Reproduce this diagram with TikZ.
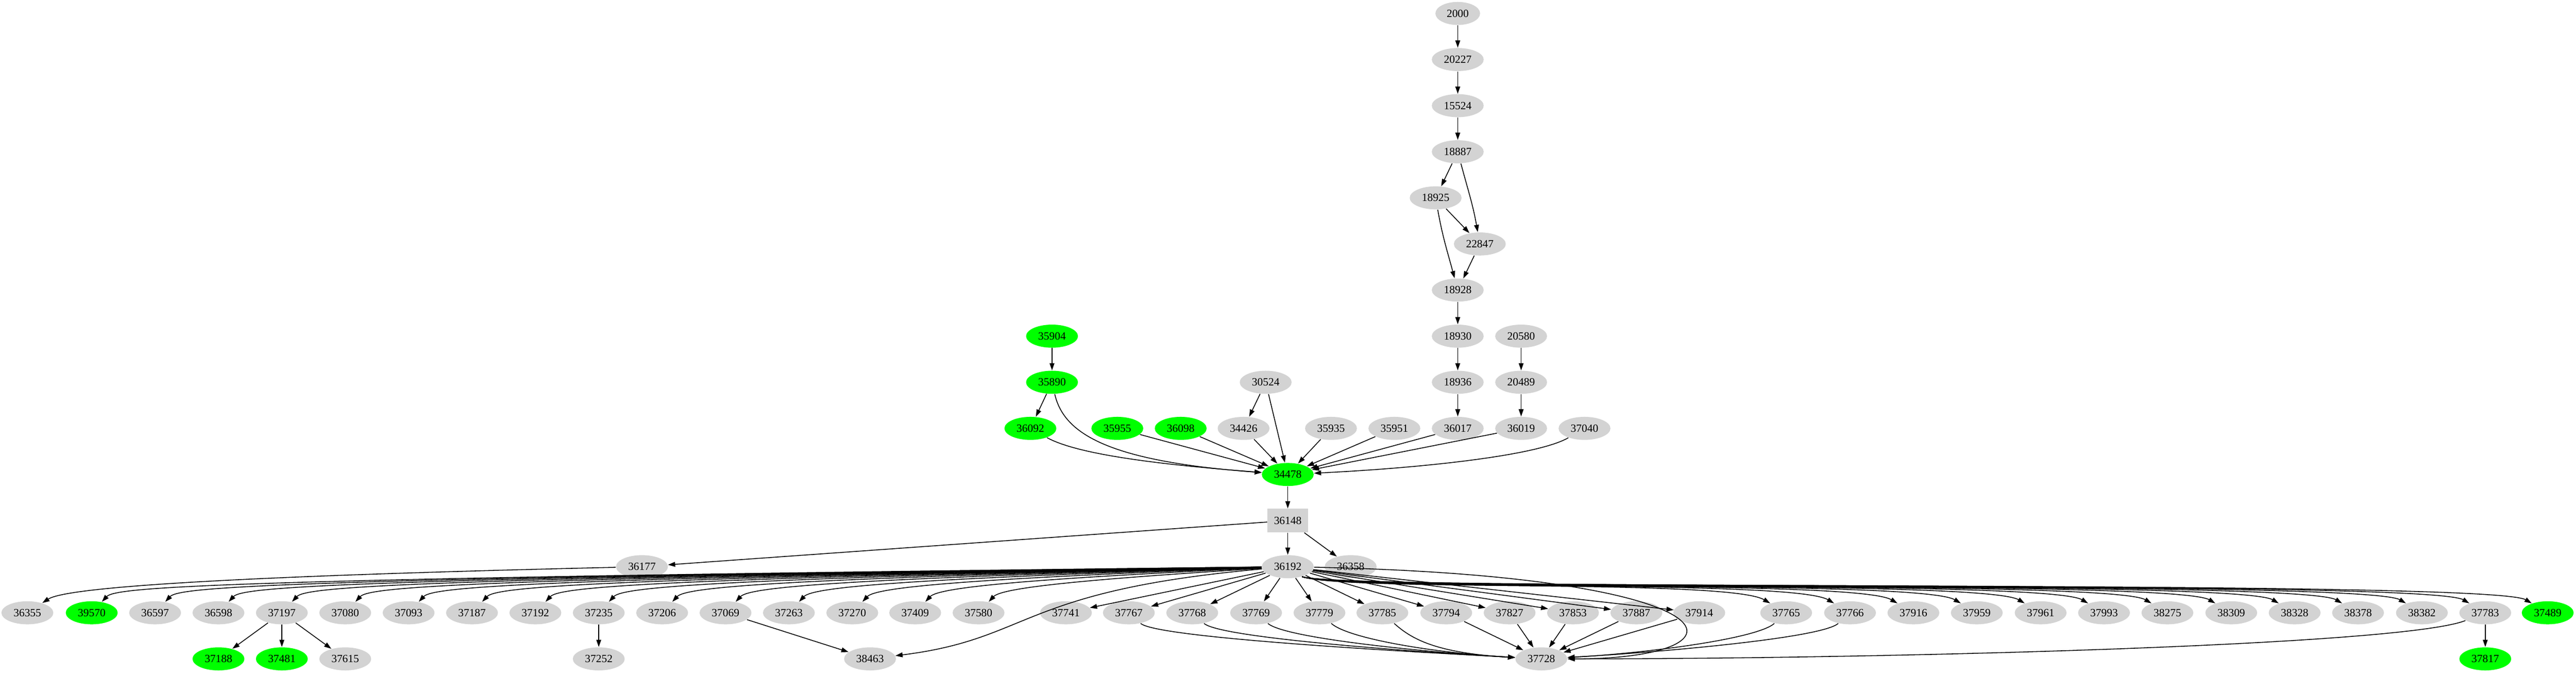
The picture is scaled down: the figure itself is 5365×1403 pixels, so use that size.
\documentclass[tikz,border=0pt]{standalone}
\usepackage{fontspec}
\setmainfont{Liberation Serif}
\usetikzlibrary{arrows.meta,shapes.geometric}
\definecolor{nodegray}{HTML}{D3D3D3}
\definecolor{nodegreen}{HTML}{00FF00}
\tikzset{
    every node/.style={align=center,font=\fontsize{5.75}{6.5}\selectfont},
    job/.style={ellipse,fill=nodegray,inner sep=0pt,minimum width=27pt,minimum height=12pt},
    done/.style={job,fill=nodegreen},
    hub/.style={rectangle,fill=nodegray,inner sep=0pt,minimum width=21pt,minimum height=12.25pt},
    dep/.style={-{Triangle[length=3.75pt,width=2.5pt]},line width=0.42pt},
}

\begin{document}
\begin{tikzpicture}[x=0.25pt,y=-0.25pt]
                \useasboundingbox (0,0) rectangle (5365,1403);

                % top chain
                \node[job,minimum width=23.25pt] (n2000) at (3036, 28) {2000};
                \node[job] (n20227) at (3036, 124) {20227};
                \node[job] (n15524) at (3036, 220) {15524};
                \node[job] (n18887) at (3036, 316) {18887};
                \node[job] (n18925) at (2990, 412) {18925};
                \node[job] (n22847) at (3082, 508) {22847};
                \node[job] (n18928) at (3036, 604) {18928};
                \node[job] (n18930) at (3036, 700) {18930};
                \node[job] (n20580) at (3168, 700) {20580};
                \node[done] (n35904) at (2191, 700) {35904};
                \node[done] (n35890) at (2191, 796) {35890};
                \node[job] (n30524) at (2636, 796) {30524};
                \node[job] (n18936) at (3036, 796) {18936};
                \node[job] (n20489) at (3168, 796) {20489};

                % feeders of 34478
                \foreach \n/\x/\s in {36092/2146/done, 35955/2327/done, 36098/2459/done, 34426/2590/job,
                    35935/2772/job, 35951/2904/job, 36017/3036/job, 36019/3168/job, 37040/3300/job}
                    \node[\s] (n\n) at (\x, 892) {\n};

                \node[done] (n34478) at (2682, 988) {34478};
                \node[hub] (n36148) at (2682, 1084) {36148};
                \node[job] (n36177) at (1337, 1180) {36177};
                \node[job] (n36192) at (2682, 1180) {36192};
                \node[job] (n36358) at (2813, 1180) {36358};

                % bottom rows
                \foreach \n/\x/\s in {36355/57/job, 39570/191/done, 36597/323/job, 36598/455/job, 37197/587/job,
                    37080/719/job, 37093/851/job, 37187/983/job, 37192/1115/job, 37235/1247/job, 37206/1379/job,
                    37069/1511/job, 37263/1643/job, 37270/1775/job, 37409/1906/job, 37580/2038/job,
                    37741/2220/job, 37767/2351/job, 37768/2483/job, 37769/2616/job, 37779/2748/job,
                    37785/2879/job, 37794/3012/job, 37827/3144/job, 37853/3276/job, 37887/3408/job,
                    37914/3539/job, 37765/3720/job, 37766/3853/job, 37916/3985/job, 37959/4117/job,
                    37961/4250/job, 37993/4382/job, 38275/4514/job, 38309/4647/job, 38328/4779/job,
                    38378/4911/job, 38382/5044/job, 37783/5176/job, 37489/5306/done}
                    \node[\s] (n\n) at (\x, 1276) {\n};
                \foreach \n/\x/\s in {37188/455/done, 37481/587/done, 37615/719/job, 37252/1247/job,
                    38463/1812/job, 37728/3210/job, 37817/5176/done}
                    \node[\s] (n\n) at (\x, 1372) {\n};

                % chain edges
                \draw[dep] (n2000) -- (n20227);
                \draw[dep] (n20227) -- (n15524);
                \draw[dep] (n15524) -- (n18887);
                \draw[dep] (n18887) -- (n18925);
                \draw[dep] (n18887) to[out=-75,in=100] (n22847);
                \draw[dep] (n18925) -- (n22847);
                \draw[dep] (n18925) to[out=-80,in=105] (n18928);
                \draw[dep] (n22847) -- (n18928);
                \draw[dep] (n18928) -- (n18930);
                \draw[dep] (n18930) -- (n18936);
                \draw[dep] (n18936) -- (n36017);
                \draw[dep] (n20580) -- (n20489);
                \draw[dep] (n20489) -- (n36019);
                \draw[dep] (n35904) -- (n35890);
                \draw[dep] (n35890) -- (n36092);
                \draw[dep] (n30524) -- (n34426);

                % into 34478
                \draw[dep] (n35890) .. controls (2215,900) and (2300,960) .. (n34478);
                \draw[dep] (n36092) .. controls (2250,950) and (2450,970) .. (n34478);
                \foreach \n in {35955, 36098, 34426, 30524, 35935, 35951, 36017, 36019}
                    \draw[dep] (n\n) -- (n34478);
                \draw[dep] (n37040) .. controls (3200,950) and (2950,975) .. (n34478);

                \draw[dep] (n34478) -- (n36148);
                \draw[dep] (n36148) -- (n36177);
                \draw[dep] (n36148) -- (n36192);
                \draw[dep] (n36148) -- (n36358);
                \draw[dep] (n36177) .. controls (700,1195) and (150,1215) .. (n36355);

                % fan out of 36192
                \foreach \n/\x in {39570/191, 36597/323, 36598/455, 37197/587, 37080/719, 37093/851,
                    37187/983, 37192/1115, 37235/1247, 37206/1379, 37069/1511, 37263/1643, 37270/1775,
                    37409/1906, 37580/2038}
                    \draw[dep] (n36192) .. controls (\x+250,1205) and (\x+50,1222) .. (n\n);
                \foreach \n in {37741, 37767, 37768, 37769, 37779, 37785, 37794, 37827, 37853, 37887, 37914}
                    \draw[dep] (n36192) -- (n\n);
                \foreach \n/\x in {37765/3720, 37766/3853, 37916/3985, 37959/4117, 37961/4250, 37993/4382,
                    38275/4514, 38309/4647, 38328/4779, 38378/4911, 38382/5044, 37783/5176, 37489/5306}
                    \draw[dep] (n36192.-35) .. controls (2800,1232) and (\x-120,1205) .. (n\n);
                \draw[dep] (n36192) .. controls (2120,1230) and (2150,1330) .. (n38463);
                \draw[dep] (n36192) .. controls (3640,1200) and (3660,1372) .. (n37728);

                % lower edges
                \foreach \n in {37188, 37481, 37615}
                    \draw[dep] (n37197) -- (n\n);
                \draw[dep] (n37235) -- (n37252);
                \draw[dep] (n37069) -- (n38463);
                \draw[dep] (n37783) -- (n37817);
                \foreach \n/\x in {37767/2351, 37768/2483, 37769/2616, 37779/2748, 37785/2879}
                    \draw[dep] (n\n) .. controls (\x+60,1330) and (2990,1360) .. (n37728);
                \foreach \n in {37794, 37827, 37853, 37887, 37914}
                    \draw[dep] (n\n) -- (n37728);
                \foreach \n/\x in {37765/3720, 37766/3853}
                    \draw[dep] (n\n) .. controls (\x-60,1330) and (3430,1360) .. (n37728);
                \draw[dep] (n37783) .. controls (5000,1345) and (3900,1372) .. (n37728);
            \end{tikzpicture}
\end{document}
